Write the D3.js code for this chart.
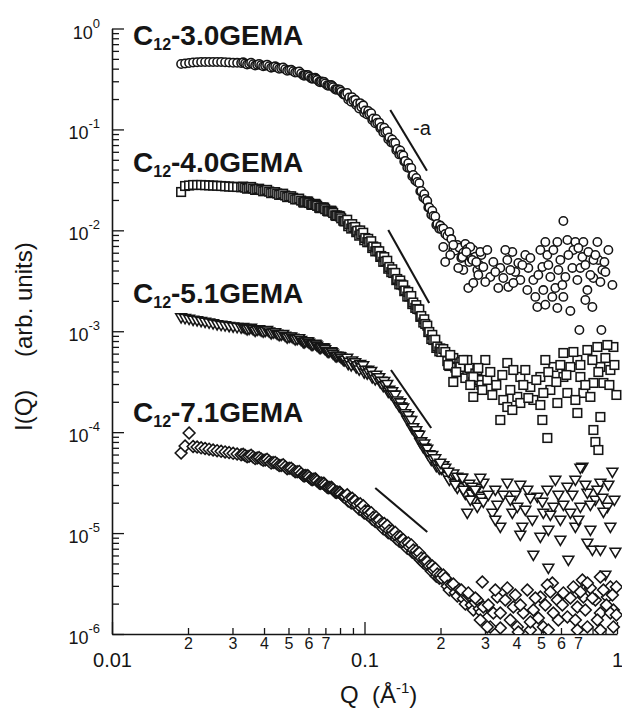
<!DOCTYPE html>
<html><head><meta charset="utf-8">
<script src="https://cdn.jsdelivr.net/npm/d3@7"></script>
<style>body{margin:0;background:#fff}svg{display:block}</style>
</head><body><svg id="c" width="622" height="709"></svg>
<script>
// ---------------- data ----------------
const qGrid = [0.01878,0.01947,0.02020,0.02095,0.02173,0.02254,0.02337,0.02424,0.02514,0.02608,
0.02705,0.02805,0.02910,0.03018,0.03130,0.03247,0.03367,0.03492,0.03622,0.03757,
0.03897,0.04041,0.04192,0.04348,0.04509,0.04677,0.04851,0.05031,0.05218,0.05412,
0.05613,0.05822,0.06038,0.06263,0.06496,0.06737,0.06988,0.07248,0.07517,0.07797,
0.08087,0.08387,0.08699,0.09023,0.09358,0.09706,0.10067,0.10441,0.10830,0.11232,
0.11650,0.12083,0.12533,0.12999,0.13482,0.13983,0.14503,0.15043,0.15602,0.16182,
0.16784,0.17408,0.18055,0.18727,0.19423,0.20145,0.20894,0.21671,0.22477,0.23313,
0.24180,0.25079,0.26012,0.26979,0.27982,0.29023];
const qMid = [0.03307,0.03429,0.03556,0.03689,0.03826,0.03969,0.04115,0.04269,0.04428,0.04592,
0.04763,0.04940,0.05124,0.05314,0.05512,0.05716,0.05929,0.06149,0.06378,0.06616,
0.06861,0.07117,0.07382,0.07655,0.07941,0.08236,0.08541,0.08859,0.09189,0.09530,
0.09885,0.10252,0.10633,0.11029,0.11439,0.11865,0.12306,0.12764,0.13238,0.13730,
0.14241,0.14770,0.15320,0.15889,0.16480,0.17093,0.17729,0.18388,0.19072,0.19781,
0.20516,0.21279,0.22070,0.22891,0.23742,0.24625,0.25541,0.26491,0.27476,0.28497];
const qQuarter = [0.05768,0.05983,0.06205,0.06436,0.06676,0.06924,0.07182,0.07449,0.07725,0.08013,
0.08311,0.08619,0.08940,0.09273,0.09617,0.09975,0.10346,0.10730,0.11130,0.11543,
0.11973,0.12418,0.12880,0.13359,0.13855,0.14370,0.14905,0.15460,0.16034,0.16630,
0.17249,0.17890,0.18555,0.19246,0.19961];

// C12-3.0GEMA (circles)
const iC30 = [0.4447,0.4498,0.4550,0.4602,0.4634,0.4655,0.4655,0.4655,0.4655,0.4655,
0.4655,0.4634,0.4602,0.4581,0.4571,0.4550,0.4508,0.4467,0.4427,0.4377,
0.4337,0.4288,0.4230,0.4163,0.4106,0.4041,0.3950,0.3861,0.3774,0.3689,
0.3589,0.3461,0.3337,0.3217,0.3102,0.2985,0.2851,0.2736,0.2620,0.2503,
0.2369,0.2218,0.2071,0.1934,0.1806,0.1668,0.1540,0.1422,0.1283,0.1166,
0.1057,0.09428,0.08317,0.07337,0.06396,0.05642,0.04864,0.04147,0.03534,0.03013,
0.02454,0.02045,0.01683,0.01387,0.01156,0.01031,0.009197,0.009628,0.006384,0.007155,
0.005320,0.007322,0.004856,0.006384,0.004046,0.005696];
const iC30Mid = [0.4620,0.4398,0.4580,0.4292,0.4444,0.4227,0.4387,0.4092,0.4218,0.3993,
0.4116,0.3808,0.3894,0.3657,0.3748,0.3437,0.3467,0.3211,0.3255,0.2968,
0.2976,0.2738,0.2758,0.2498,0.2485,0.2248,0.2295,0.1883,0.1964,0.1615,
0.1732,0.1407,0.1448,0.1151,0.1168,0.0930,0.09583,0.07436,0.07348,0.05658,
0.05516,0.04191,0.04148,0.03110,0.02925,0.02115,0.01957,0.01428,0.01374,0.01039,
0.01044,0.008848,0.00819,0.00630,0.00674,0.00600,0.00652,0.00528,0.00548,0.00453];
const iC30Quarter = [0.3406,0.3452,0.3182,0.3194,0.2939,0.2957,0.2710,0.2702,0.2469,0.2463,
0.2211,0.1982,0.2086,0.1746,0.1822,0.1462,0.1525,0.1239,0.1267,0.1030,
0.1039,0.07993,0.07961,0.06233,0.06181,0.04806,0.04629,0.03429,0.03300,0.02438,
0.02276,0.01685,0.01563,0.01129,0.01115];
// C12-4.0GEMA (squares)
const iC40 = [0.02398,0.02750,0.02782,0.02814,0.02814,0.02814,0.02801,0.02788,0.02775,0.02763,
0.02750,0.02731,0.02713,0.02700,0.02688,0.02670,0.02652,0.02627,0.02598,0.02557,
0.02510,0.02465,0.02420,0.02371,0.02318,0.02265,0.02214,0.02164,0.02101,0.02035,
0.01971,0.01918,0.01866,0.01807,0.01747,0.01684,0.01620,0.01555,0.01485,0.01403,
0.01316,0.01232,0.01148,0.01067,0.009895,0.009136,0.008397,0.007662,0.006916,0.006241,
0.005569,0.004912,0.004333,0.003778,0.003295,0.002906,0.002534,0.002210,0.001927,0.001662,
0.001416,0.001180,0.0009833,0.0008192,0.0007063,0.0006230,0.0006230,0.0004527,0.0005433,0.0003947,
0.0004958,0.0003442,0.0004325,0.0003144,0.0004132,0.0002934];
const iC40Mid = [0.02714,0.02587,0.02691,0.02514,0.02585,0.02438,0.02516,0.02336,0.02392,0.02246,
0.02307,0.02134,0.02176,0.02027,0.02063,0.01896,0.01930,0.01800,0.01830,0.01673,
0.01685,0.01556,0.01566,0.01408,0.01387,0.01249,0.01273,0.01041,0.01080,0.008850,
0.009468,0.007628,0.007799,0.006184,0.006200,0.004874,0.004993,0.003853,0.003784,0.002915,
0.002856,0.002206,0.002234,0.001705,0.001647,0.001220,0.001136,0.0008382,0.0008238,0.0006315,
0.0006666,0.0005057,0.0005229,0.0004362,0.0004806,0.0003990,0.0004152,0.0003506,0.0003822,0.0003283];
const iC40Quarter = [0.01883,0.01926,0.01786,0.01797,0.01658,0.01677,0.01540,0.01533,0.01388,0.01371,
0.01228,0.01099,0.01152,0.009586,0.009979,0.007981,0.008238,0.006677,0.006795,0.005450,
0.005431,0.004165,0.004113,0.003211,0.003183,0.002496,0.002451,0.001858,0.001814,0.001389,
0.001313,0.0009814,0.0009204,0.0006831,0.0006760];
// C12-5.1GEMA (down triangles)
const iC51 = [0.001369,0.001344,0.001320,0.001296,0.001278,0.001258,0.001235,0.001213,0.001191,0.001169,
0.001151,0.001138,0.001122,0.001110,0.001095,0.001082,0.001070,0.001055,0.001041,0.001027,
0.001015,0.001001,0.0009878,0.0009655,0.0009415,0.0009203,0.0008975,0.0008772,0.0008555,0.0008343,
0.0008136,0.0007880,0.0007633,0.0007393,0.0007160,0.0006920,0.0006596,0.0006273,0.0005952,0.0005686,
0.0005433,0.0005191,0.0004970,0.0004771,0.0004568,0.0004364,0.0004113,0.0003876,0.0003645,0.0003435,
0.0003216,0.0002909,0.0002625,0.0002337,0.0002046,0.0001788,0.0001531,0.0001314,0.0001115,0.00009463,
0.00008066,0.00006970,0.00006023,0.00005350,0.00004795,0.00004327,0.00004416,0.00003359,0.00003873,0.00002798,
0.00003515,0.00002440,0.00003066,0.00002128,0.00002798,0.00002227];
const iC51Mid = [0.001098,0.001041,0.001079,0.001008,0.001041,0.0009878,0.001024,0.0009523,0.0009726,0.0009123,
0.0009362,0.0008652,0.0008837,0.0008280,0.0008487,0.0007808,0.0007912,0.0007363,0.0007495,0.0006864,
0.0006893,0.0006306,0.0006296,0.0005674,0.0005671,0.0005206,0.0005437,0.0004579,0.0004903,0.0004153,
0.0004578,0.0003795,0.0004024,0.0003328,0.0003492,0.0002849,0.0002988,0.0002357,0.0002345,0.0001802,
0.0001743,0.0001323,0.0001312,0.00009794,0.00009379,0.00007067,0.00006822,0.00005289,0.00005479,0.00004333,
0.00004678,0.00003655,0.00003797,0.00003102,0.00003410,0.00002829,0.00002946,0.00002441,0.00002586,0.00002337];
const iC51Quarter = [0.0007745,0.0007887,0.0007304,0.0007362,0.0006806,0.0006844,0.0006227,0.0006153,0.0005609,0.0005633,
0.0005147,0.0004724,0.0005110,0.0004388,0.0004724,0.0003884,0.0004132,0.0003481,0.0003697,0.0003107,
0.0003195,0.0002507,0.0002529,0.0001992,0.0001964,0.0001515,0.0001464,0.0001083,0.0001038,0.00007910,
0.00007679,0.00005947,0.00005904,0.00004589,0.00004666];
// C12-7.1GEMA (diamonds)
const iC71 = [6.219e-5,7.296e-5,9.815e-5,7.213e-5,7.131e-5,7.002e-5,6.891e-5,6.782e-5,6.659e-5,6.554e-5,
6.465e-5,6.377e-5,6.276e-5,6.176e-5,6.078e-5,5.968e-5,5.874e-5,5.781e-5,5.676e-5,5.548e-5,
5.423e-5,5.301e-5,5.146e-5,4.995e-5,4.838e-5,4.686e-5,4.539e-5,4.386e-5,4.219e-5,4.049e-5,
3.887e-5,3.722e-5,3.557e-5,3.420e-5,3.283e-5,3.136e-5,2.983e-5,2.830e-5,2.692e-5,2.554e-5,
2.424e-5,2.300e-5,2.177e-5,2.056e-5,1.920e-5,1.793e-5,1.663e-5,1.546e-5,1.434e-5,1.330e-5,
1.231e-5,1.139e-5,1.061e-5,9.864e-6,9.149e-6,8.485e-6,7.888e-6,7.316e-6,6.801e-6,6.207e-6,
5.666e-6,5.172e-6,4.721e-6,4.309e-6,3.933e-6,3.590e-6,3.590e-6,2.730e-6,3.131e-6,2.381e-6,
2.730e-6,1.984e-6,2.381e-6,1.730e-6,2.173e-6,1.653e-6];
const iC71Mid = [6.039e-5,5.711e-5,5.901e-5,5.472e-5,5.595e-5,5.255e-5,5.381e-5,4.944e-5,5.015e-5,4.667e-5,
4.751e-5,4.351e-5,4.389e-5,4.051e-5,4.087e-5,3.710e-5,3.713e-5,3.419e-5,3.453e-5,3.130e-5,
3.121e-5,2.849e-5,2.844e-5,2.557e-5,2.539e-5,2.315e-5,2.396e-5,1.990e-5,2.087e-5,1.727e-5,
1.866e-5,1.525e-5,1.594e-5,1.299e-5,1.345e-5,1.102e-5,1.188e-5,9.719e-6,1.017e-5,8.288e-6,
8.596e-6,7.070e-6,7.624e-6,6.179e-6,6.353e-6,5.094e-6,5.194e-6,4.199e-6,4.451e-6,3.574e-6,
3.841e-6,2.970e-6,3.078e-6,2.563e-6,2.760e-6,2.239e-6,2.336e-6,1.933e-6,2.050e-6,1.779e-6];
const iC71Quarter = [3.669e-5,3.688e-5,3.385e-5,3.383e-5,3.094e-5,3.097e-5,2.811e-5,2.782e-5,2.524e-5,2.518e-5,
2.284e-5,2.075e-5,2.211e-5,1.856e-5,1.953e-5,1.577e-5,1.654e-5,1.374e-5,1.437e-5,1.193e-5,
1.243e-5,1.005e-5,1.055e-5,8.768e-6,9.170e-6,7.635e-6,7.981e-6,6.445e-6,6.674e-6,5.453e-6,
5.614e-6,4.592e-6,4.721e-6,3.745e-6,3.860e-6];

// high-Q scattered points
const qC30Hi = [0.2051,0.2247,0.2440,0.2624,0.2673,0.2875,0.3064,0.2462,0.2577,0.2697,
0.2955,0.3149,0.3388,0.3450,0.3678,0.3850,0.3956,0.4066,0.3712,0.4141,
0.4334,0.4455,0.4663,0.4749,0.4836,0.5062,0.5202,0.5298,0.5445,0.5545,
0.5700,0.5805,0.5966,0.6132,0.6245,0.6360,0.6536,0.6657,0.6841,0.6967,
0.7161,0.7293,0.7360,0.7633,0.7703,0.7989,0.8063,0.8362,0.8439,0.8752,
0.7096,0.8673,0.8996,0.8063,0.6718,0.5108,0.6132,0.5805,0.9589,
0.2088,0.2186,0.2352,0.2530,0.2772,0.2823,0.3009,0.3237,0.3297,0.3546,
0.3611,0.3780,0.3885,0.4217,0.4414,0.4538,0.4880,0.4971,0.5347,0.5596,
0.5858,0.6075,0.6418,0.7031,0.7493,0.7845,0.8211,0.8594,0.8914,0.9243,
0.7493,0.5202];
const iC30Hi = [0.00684,0.00716,0.00544,0.00684,0.00508,0.00610,0.00638,0.00405,0.00268,0.00301,
0.00433,0.00345,0.00268,0.00424,0.00508,0.00610,0.00387,0.00475,0.00275,0.00322,
0.00570,0.00424,0.00322,0.00219,0.00174,0.00433,0.00766,0.00570,0.00345,0.00219,
0.00268,0.00766,0.00508,0.01238,0.00345,0.00802,0.00159,0.00424,0.00766,0.00322,
0.00424,0.00544,0.00766,0.00256,0.00610,0.00174,0.00337,0.00766,0.00508,0.00405,
0.00103,0.00103,0.00387,0.00508,0.00638,0.00256,0.00219,0.00170,0.00287,
0.004856,0.005696,0.004235,0.006099,0.004856,0.003610,0.003077,0.004856,0.003866,0.003371,
0.006384,0.004046,0.003008,0.004535,0.002564,0.005320,0.003610,0.006384,0.004535,0.006384,
0.004046,0.002873,0.005696,0.006684,0.004535,0.003610,0.005696,0.003077,0.004856,0.006384,
0.002041,0.001831];

const qC40Hi = [0.2186,0.2553,0.3009,0.3678,0.2247,0.2697,0.3208,0.3546,0.4029,0.4141,
0.4663,0.4971,0.5596,0.6132,0.6967,0.7633,0.8362,0.9677,0.8594,0.9415,
0.8063,0.7360,0.6360,0.5805,0.6967,0.8594,0.9945,0.3450,0.5062,0.5298,
0.8063,0.8211,0.8439,0.4538,0.3678,0.3064,0.6132,0.7161,0.5445,0.7845,
0.8834,0.4141,0.2697,0.2396,0.9159,0.6536,0.4334,0.5202,
0.2147,0.2309,0.2462,0.2624,0.2823,0.2928,0.3149,0.3327,0.3514,0.3780,
0.3885,0.4256,0.4455,0.4792,0.5108,0.5347,0.5752,0.5966,0.6302,0.6718,
0.7161,0.7493,0.7989,0.8439,0.8996,0.9328,0.9766,0.4971,0.3850,0.6841];
const iC40Hi = [0.0005818,0.0005191,0.0005191,0.0004847,0.0003144,0.0003523,0.0002337,0.0002085,0.0002236,0.0003523,
0.0002085,0.0003523,0.0004424,0.0006089,0.0005191,0.0006521,0.0006983,0.0006983,0.0004424,0.0004132,
0.0003073,0.0002446,0.0002446,0.0001946,0.0001549,0.0001414,0.0002337,0.0001320,0.0001320,0.00008757,
0.0001051,0.00007993,0.00006659,0.0002805,0.0001776,0.0003290,0.0003523,0.0003523,0.0002619,0.0002236,
0.0003073,0.0001946,0.0002236,0.0004424,0.0007309,0.0004424,0.0004132,0.0005191,
0.0004631,0.0003947,0.0005191,0.0002934,0.0004325,0.0002619,0.0003947,0.0002934,0.0003686,0.0002619,
0.0004132,0.0002934,0.0002182,0.0003290,0.0002446,0.0003947,0.0003144,0.0004631,0.0003686,0.0006230,
0.0004631,0.0002934,0.0005191,0.0003947,0.0005433,0.0002934,0.0004631,0.0001859,0.0001659,0.0002085];

const qC51Hi = [0.1996,0.2330,0.2673,0.2955,0.3297,0.3678,0.3956,0.4414,0.4836,0.5298,
0.5700,0.6360,0.6841,0.7633,0.8211,0.9159,0.2797,0.3208,0.3450,0.3850,
0.4217,0.4620,0.4971,0.5347,0.5966,0.6536,0.6841,0.7293,0.9589,0.8594,
0.8834,0.9415,0.4663,0.5347,0.6418,0.7633,0.7989,0.9855,0.2955,0.4029,
0.5596,0.7161,0.5108,0.2462,0.2553,0.8996,0.9677,0.7161,0.8594,
0.2147,0.2288,0.2440,0.2624,0.2747,0.2875,0.3092,0.3357,0.3546,0.3780,
0.4141,0.4334,0.4538,0.5062,0.5445,0.5858,0.6132,0.6657,0.7031,0.7493,
0.7845,0.8362,0.8752,0.9243,0.9766,0.5966,0.4141,0.7845,0.3297];
const iC51Hi = [4.950e-5,3.597e-5,2.863e-5,3.136e-5,2.673e-5,3.136e-5,2.385e-5,2.673e-5,2.279e-5,2.673e-5,
3.359e-5,2.863e-5,3.359e-5,2.497e-5,2.128e-5,1.814e-5,1.814e-5,1.582e-5,1.149e-5,1.582e-5,
1.149e-5,1.348e-5,9.149e-6,1.073e-5,1.348e-5,1.582e-5,1.149e-5,4.518e-5,4.031e-5,3.136e-5,
1.618e-5,1.149e-5,6.067e-6,4.510e-6,5.413e-6,7.978e-6,6.801e-6,6.497e-6,2.033e-5,1.814e-5,
1.814e-5,1.814e-5,1.582e-5,2.673e-5,1.582e-5,3.844e-6,2.730e-6,4.416e-5,6.801e-6,
4.031e-5,2.997e-5,3.515e-5,2.128e-5,2.673e-5,3.515e-5,2.385e-5,1.899e-5,2.385e-5,2.128e-5,
2.997e-5,1.694e-5,2.227e-5,2.033e-5,1.511e-5,2.385e-5,1.899e-5,2.385e-5,1.348e-5,2.997e-5,
1.899e-5,2.673e-5,2.227e-5,2.997e-5,2.128e-5,8.543e-6,9.576e-6,1.073e-5,1.348e-5];

const qC71Hi = [0.2928,0.2577,0.3357,0.3678,0.2955,0.3237,0.3885,0.4256,0.4663,0.4971,
0.5545,0.6132,0.6718,0.7293,0.7845,0.8594,0.9415,0.5108,0.5596,0.6360,
0.6967,0.7633,0.8594,0.9677,0.9677,0.4029,0.3450,0.3149,0.4538,0.9159,
0.5805,0.7360,0.8211,0.9945,0.5298,0.7633,0.9415,0.4066,0.6967,0.8594,
0.3064,0.3450,
0.2747,0.2875,0.3092,0.3297,0.3611,0.3780,0.3956,0.4141,0.4414,0.4749,
0.4880,0.5202,0.5445,0.5858,0.6075,0.6536,0.6841,0.7161,0.7493,0.7989,
0.8362,0.8834,0.9079,0.9589,0.9945,0.4538,0.5347];
const iC71Hi = [3.277e-6,2.550e-6,2.327e-6,2.858e-6,1.852e-6,1.615e-6,1.852e-6,1.615e-6,1.730e-6,2.327e-6,
3.203e-6,2.550e-6,2.924e-6,3.430e-6,2.858e-6,3.673e-6,2.924e-6,1.174e-6,1.615e-6,1.475e-6,
1.852e-6,1.174e-6,1.615e-6,1.730e-6,1.174e-6,1.174e-6,1.147e-6,1.174e-6,1.096e-6,2.327e-6,
2.173e-6,2.327e-6,2.173e-6,2.924e-6,3.060e-6,3.203e-6,1.615e-6,1.047e-6,1.096e-6,1.096e-6,
1.174e-6,1.615e-6,
2.274e-6,1.377e-6,1.939e-6,2.730e-6,2.173e-6,1.377e-6,2.436e-6,1.939e-6,2.730e-6,2.274e-6,
1.441e-6,1.939e-6,2.609e-6,1.377e-6,1.939e-6,2.274e-6,1.377e-6,2.609e-6,1.730e-6,2.274e-6,
1.377e-6,2.730e-6,1.939e-6,2.436e-6,1.544e-6,1.316e-6,1.096e-6];

// power-law guide lines (slope -a)
const guideQ0 = [0.1265,0.1242,0.1273,0.1103];
const guideI0 = [0.156,0.01008,4.132e-4,2.799e-5];
const guideQ1 = [0.1767,0.1804,0.1837,0.1772];
const guideI1 = [0.039,0.001905,1.100e-4,1.026e-5];

const seriesSuffix = ["-3.0GEMA","-4.0GEMA","-5.1GEMA","-7.1GEMA"];
const xMajorTicks = [0.01,0.1,1];
const xMajorLabels = ["0.01","0.1","1"];
const xMinorTicks = [0.02,0.03,0.04,0.05,0.06,0.07,0.08,0.09,0.2,0.3,0.4,0.5,0.6,0.7,0.8,0.9];
const xMinorLabels = ["2","3","4","5","6","7","","","2","3","4","5","6","7","",""];
const yMajorTicks = [1,0.1,0.01,0.001,1e-4,1e-5,1e-6];
const yExponents = ["0","-1","-2","-3","-4","-5","-6"];

// ---------------- drawing ----------------
const FONT = "'Liberation Sans', Arial, Helvetica, sans-serif";
const INK = "#151515";
const svg = d3.select("#c").style("font-family", FONT);
const x = d3.scaleLog().domain([0.01, 1]).range([112, 617]);
const y = d3.scaleLog().domain([1e-6, 1]).range([634, 28.5]);

svg.append("defs").append("clipPath").attr("id", "plotclip")
  .append("rect").attr("x", 100).attr("y", 0).attr("width", 522).attr("height", 634);

// x axis
const gxMinor = svg.append("g").attr("transform", "translate(0,634)")
  .call(d3.axisBottom(x).tickValues(xMinorTicks).tickSize(-6).tickSizeOuter(0).tickPadding(4)
    .tickFormat((d, i) => xMinorLabels[i]));
gxMinor.select(".domain").remove();
gxMinor.selectAll("text").attr("font-size", 16).attr("font-family", FONT).attr("fill", INK);
const gxMajor = svg.append("g").attr("transform", "translate(0,634)")
  .call(d3.axisBottom(x).tickValues(xMajorTicks).tickSize(-12).tickSizeOuter(0).tickPadding(19)
    .tickFormat((d, i) => xMajorLabels[i]));
gxMajor.selectAll("text").attr("font-size", 20).attr("font-family", FONT).attr("fill", INK);

// y axis
const yMinorTicks = y.ticks().filter(v => !yMajorTicks.some(m => Math.abs(Math.log10(v) - Math.log10(m)) < 1e-6));
const gyMinor = svg.append("g").attr("transform", "translate(112,0)")
  .call(d3.axisLeft(y).tickValues(yMinorTicks).tickSize(-7).tickSizeOuter(0).tickFormat(""));
gyMinor.select(".domain").remove();
const gyMajor = svg.append("g").attr("transform", "translate(112,0)")
  .call(d3.axisLeft(y).tickValues(yMajorTicks).tickSize(-12).tickSizeOuter(0).tickPadding(12).tickFormat(""));
gyMajor.selectAll(".tick text").each(function(d, i) {
  const t = d3.select(this).attr("dy", null).attr("y", 9.5).attr("font-size", 18)
    .attr("font-family", FONT).attr("fill", INK).attr("text-anchor", "end");
  t.append("tspan").text("10");
  t.append("tspan").attr("dy", -11).attr("font-size", 13).text(yExponents[i]);
});
svg.selectAll(".domain").attr("stroke", INK).attr("stroke-width", 1.6);
svg.selectAll(".tick line").attr("stroke", INK).attr("stroke-width", 1.3);

// axis titles
const xt = svg.append("text").attr("x", 340).attr("y", 703).attr("font-size", 24).attr("fill", INK);
xt.append("tspan").text("Q");
xt.append("tspan").attr("x", 372).text("(Å");
xt.append("tspan").attr("dy", -10).attr("font-size", 15).text("-1");
xt.append("tspan").attr("dy", 10).text(")");

const yt = svg.append("g").attr("transform", "translate(32,331) rotate(-90)");
yt.append("text").attr("x", -100).attr("y", 0).attr("font-size", 24).attr("fill", INK).text("I(Q)");
yt.append("text").attr("x", -26).attr("y", 0).attr("font-size", 24).attr("fill", INK).text("(arb. units)");

// guide lines
const gGuide = svg.append("g");
guideQ0.forEach((q0, i) => {
  gGuide.append("line")
    .attr("x1", x(q0)).attr("y1", y(guideI0[i]))
    .attr("x2", x(guideQ1[i])).attr("y2", y(guideI1[i]))
    .attr("stroke", INK).attr("stroke-width", 2.1);
});
svg.append("text").attr("x", 413).attr("y", 135).attr("font-size", 20).attr("fill", INK).text("-a");

// markers
const plot = svg.append("g").attr("clip-path", "url(#plotclip)");
const SW = 1.55;
function pts(...arrs) {
  let out = [];
  for (let i = 0; i < arrs.length; i += 2) out = out.concat(d3.zip(arrs[i], arrs[i + 1]));
  return out.sort((a, b) => a[0] - b[0]);
}
function drawCircles(data) {
  plot.append("g").selectAll("circle").data(data).join("circle")
    .attr("cx", d => x(d[0])).attr("cy", d => y(d[1])).attr("r", 4.2)
    .attr("fill", "#fff").attr("stroke", INK).attr("stroke-width", SW);
}
function drawSquares(data) {
  plot.append("g").selectAll("rect").data(data).join("rect")
    .attr("x", d => x(d[0]) - 4.3).attr("y", d => y(d[1]) - 4.3).attr("width", 8.6).attr("height", 8.6)
    .attr("fill", "#fff").attr("stroke", INK).attr("stroke-width", SW);
}
function drawTriangles(data) {
  plot.append("g").selectAll("path").data(data).join("path")
    .attr("d", d => { const cx = x(d[0]), cy = y(d[1]);
      return `M${cx-5.4},${cy-3.7}L${cx+5.4},${cy-3.7}L${cx},${cy+5.5}Z`; })
    .attr("fill", "#fff").attr("stroke", INK).attr("stroke-width", SW);
}
function drawDiamonds(data) {
  plot.append("g").selectAll("path").data(data).join("path")
    .attr("d", d => { const cx = x(d[0]), cy = y(d[1]);
      return `M${cx},${cy-5.9}L${cx+5.9},${cy}L${cx},${cy+5.9}L${cx-5.9},${cy}Z`; })
    .attr("fill", "#fff").attr("stroke", INK).attr("stroke-width", SW);
}
drawCircles(pts(qGrid, iC30, qMid, iC30Mid, qQuarter, iC30Quarter)); drawCircles(d3.zip(qC30Hi, iC30Hi));
drawSquares(pts(qGrid, iC40, qMid, iC40Mid, qQuarter, iC40Quarter)); drawSquares(d3.zip(qC40Hi, iC40Hi));
drawTriangles(pts(qGrid, iC51, qMid, iC51Mid, qQuarter, iC51Quarter)); drawTriangles(d3.zip(qC51Hi, iC51Hi));
drawDiamonds(pts(qGrid, iC71, qMid, iC71Mid, qQuarter, iC71Quarter)); drawDiamonds(d3.zip(qC71Hi, iC71Hi));

// series labels
const labelBase = [45, 172, 303, 422];
seriesSuffix.forEach((s, i) => {
  const t = svg.append("text").attr("x", 133).attr("y", labelBase[i])
    .attr("font-size", 28).attr("font-weight", "bold").attr("fill", INK);
  t.append("tspan").text("C");
  t.append("tspan").attr("dy", 5).attr("font-size", 16).text("12");
  t.append("tspan").attr("dy", -5).text(s);
});
</script>
</body></html>
